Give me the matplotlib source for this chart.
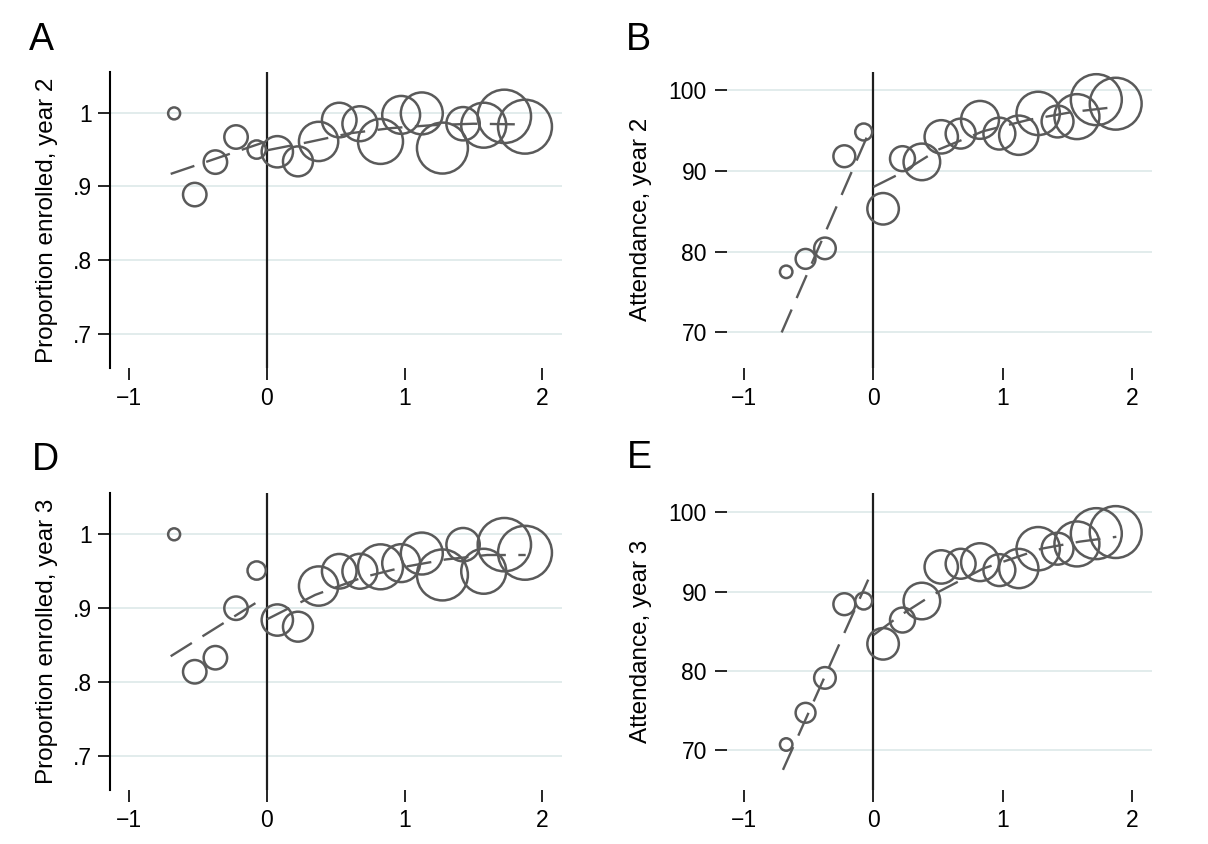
import numpy as np
import matplotlib
matplotlib.use('Agg')
import matplotlib.pyplot as plt

plt.rcParams['font.family'] = ['Liberation Sans', 'DejaVu Sans']
plt.rcParams['lines.scale_dashes'] = False

# bin midpoints (running variable)
bins = [-0.675, -0.525, -0.375, -0.225, -0.075, 0.075, 0.225, 0.375, 0.525, 0.675,
        0.825, 0.975, 1.125, 1.275, 1.425, 1.575, 1.725, 1.875]

# students per bin (bubble weight)
n_enrol = [12, 46, 46, 46, 28, 82, 75, 129, 100, 102, 169, 120, 147, 217, 93, 169, 238, 243]
n_attend = [13, 33, 39, 40, 24, 83, 52, 112, 93, 75, 120, 85, 129, 157, 85, 169, 217, 225]

# panel A: proportion enrolled, year 2
enrol_y2 = [0.999, 0.889, 0.933, 0.967, 0.950, 0.947, 0.934, 0.961, 0.990, 0.985,
            0.961, 0.997, 0.999, 0.952, 0.985, 0.983, 0.995, 0.981]
enrol_y2_fit_l_x = [-0.70, -0.02]
enrol_y2_fit_l_y = [0.917, 0.960]
enrol_y2_fit_r_x = [0.0, 0.3, 0.6, 0.9, 1.2, 1.5, 1.88]
enrol_y2_fit_r_y = [0.949, 0.960, 0.972, 0.979, 0.983, 0.985, 0.984]

# panel B: attendance, year 2
attend_y2 = [77.5, 79.1, 80.4, 91.8, 94.8, 85.3, 91.5, 91.1, 94.2, 94.6,
             96.3, 94.6, 94.4, 97.1, 96.1, 96.7, 98.8, 98.3]
attend_y2_fit_l_x = [-0.71, -0.02]
attend_y2_fit_l_y = [70.0, 95.3]
attend_y2_fit_r_x = [0.0, 0.2, 0.5, 0.85, 1.2, 1.55, 1.88]
attend_y2_fit_r_y = [88.0, 89.6, 92.6, 94.9, 96.3, 97.3, 97.9]

# panel D: proportion enrolled, year 3
enrol_y3 = [1.000, 0.814, 0.833, 0.900, 0.951, 0.884, 0.875, 0.930, 0.950, 0.950,
            0.956, 0.961, 0.974, 0.945, 0.986, 0.950, 0.986, 0.975]
enrol_y3_fit_l_x = [-0.70, -0.04]
enrol_y3_fit_l_y = [0.835, 0.912]
enrol_y3_fit_r_x = [0.0, 0.35, 0.7, 1.0, 1.3, 1.6, 1.88]
enrol_y3_fit_r_y = [0.885, 0.918, 0.942, 0.956, 0.966, 0.972, 0.972]

# panel E: attendance, year 3
attend_y3 = [70.7, 74.7, 79.1, 88.4, 88.8, 83.4, 86.4, 88.8, 93.1, 93.5,
             93.7, 92.7, 92.9, 95.4, 95.4, 96.0, 97.3, 97.5]
attend_y3_fit_l_x = [-0.70, -0.04]
attend_y3_fit_l_y = [67.5, 91.5]
attend_y3_fit_r_x = [0.0, 0.2, 0.45, 0.85, 1.3, 1.6, 1.88]
attend_y3_fit_r_y = [84.5, 86.9, 89.5, 92.9, 95.4, 96.3, 96.9]

enrol_ticks = [0.7, 0.8, 0.9, 1.0]
enrol_labels = ['.7', '.8', '.9', '1']
attend_ticks = [70, 80, 90, 100]
attend_labels = ['70', '80', '90', '100']
x_ticks = [-1, 0, 1, 2]

GRAY = '#5a5a5a'
W, H = 1208, 844
fig = plt.figure(figsize=(W / 100, H / 100), dpi=100)


def px_axes(left, top, right, bottom):
    return fig.add_axes([left / W, 1 - bottom / H, (right - left) / W, (bottom - top) / H])


def panel(ax, y, n, fl_x, fl_y, fr_x, fr_y, yticks, ylabels, ylim, xlim, ylabel,
          spine, label_x, pad):
    ax.grid(axis='y', color='#e2ecec', lw=1.4, zorder=0)
    ax.set_axisbelow(True)
    ax.axvline(0, color='#1e1e1e', lw=1.6, zorder=1)
    ax.scatter(bins, y, s=np.array(n) * 6.2, facecolors='none', edgecolors=GRAY,
               linewidths=1.8, zorder=2)
    ax.plot(fl_x, fl_y, color=GRAY, lw=1.7, dashes=[18, 9], zorder=3)
    ax.plot(fr_x, fr_y, color=GRAY, lw=1.7, dashes=[18, 9], zorder=3)
    ax.set_xlim(xlim)
    ax.set_ylim(ylim)
    ax.set_xticks(x_ticks)
    ax.set_xticklabels(['\u22121', '0', '1', '2'])
    ax.set_yticks(yticks)
    ax.set_yticklabels(ylabels)
    for s in ['top', 'right', 'bottom']:
        ax.spines[s].set_visible(False)
    ax.spines['left'].set_visible(spine)
    ax.spines['left'].set_linewidth(1.5)
    ax.tick_params(axis='x', direction='out', length=8.5, width=1.2, pad=5, labelsize=16.5)
    ax.tick_params(axis='y', direction='out', length=8.4, width=1.2, pad=pad, labelsize=16.5)
    ax.set_ylabel(ylabel, fontsize=17.5)
    ax.yaxis.set_label_coords(label_x, 0.5)


axA = px_axes(110, 71.7, 562, 368)
panel(axA, enrol_y2, n_enrol, enrol_y2_fit_l_x, enrol_y2_fit_l_y, enrol_y2_fit_r_x, enrol_y2_fit_r_y,
      enrol_ticks, enrol_labels, (0.654, 1.0555), (-1.141, 2.144),
      'Proportion enrolled, year 2', True, -0.115, 4.5)

axB = px_axes(727, 71.7, 1152, 368)
panel(axB, attend_y2, n_attend, attend_y2_fit_l_x, attend_y2_fit_l_y, attend_y2_fit_r_x, attend_y2_fit_r_y,
      attend_ticks, attend_labels, (65.6, 102.26), (-1.133, 2.156),
      'Attendance, year 2', False, -0.176, 6)

axD = px_axes(110, 493.3, 562, 790)
panel(axD, enrol_y3, n_enrol, enrol_y3_fit_l_x, enrol_y3_fit_l_y, enrol_y3_fit_r_x, enrol_y3_fit_r_y,
      enrol_ticks, enrol_labels, (0.654, 1.0555), (-1.141, 2.144),
      'Proportion enrolled, year 3', True, -0.115, 4.5)

axE = px_axes(727, 493.3, 1152, 790)
panel(axE, attend_y3, n_attend, attend_y3_fit_l_x, attend_y3_fit_l_y, attend_y3_fit_r_x, attend_y3_fit_r_y,
      attend_ticks, attend_labels, (64.96, 102.39), (-1.133, 2.156),
      'Attendance, year 3', False, -0.176, 6)

for letter, x, y in [('A', 29, 50), ('B', 626, 50), ('D', 32, 470), ('E', 627, 468)]:
    fig.text(x / W, 1 - y / H, letter, fontsize=27, va='baseline', ha='left')

fig.savefig('out.png', dpi=100)
